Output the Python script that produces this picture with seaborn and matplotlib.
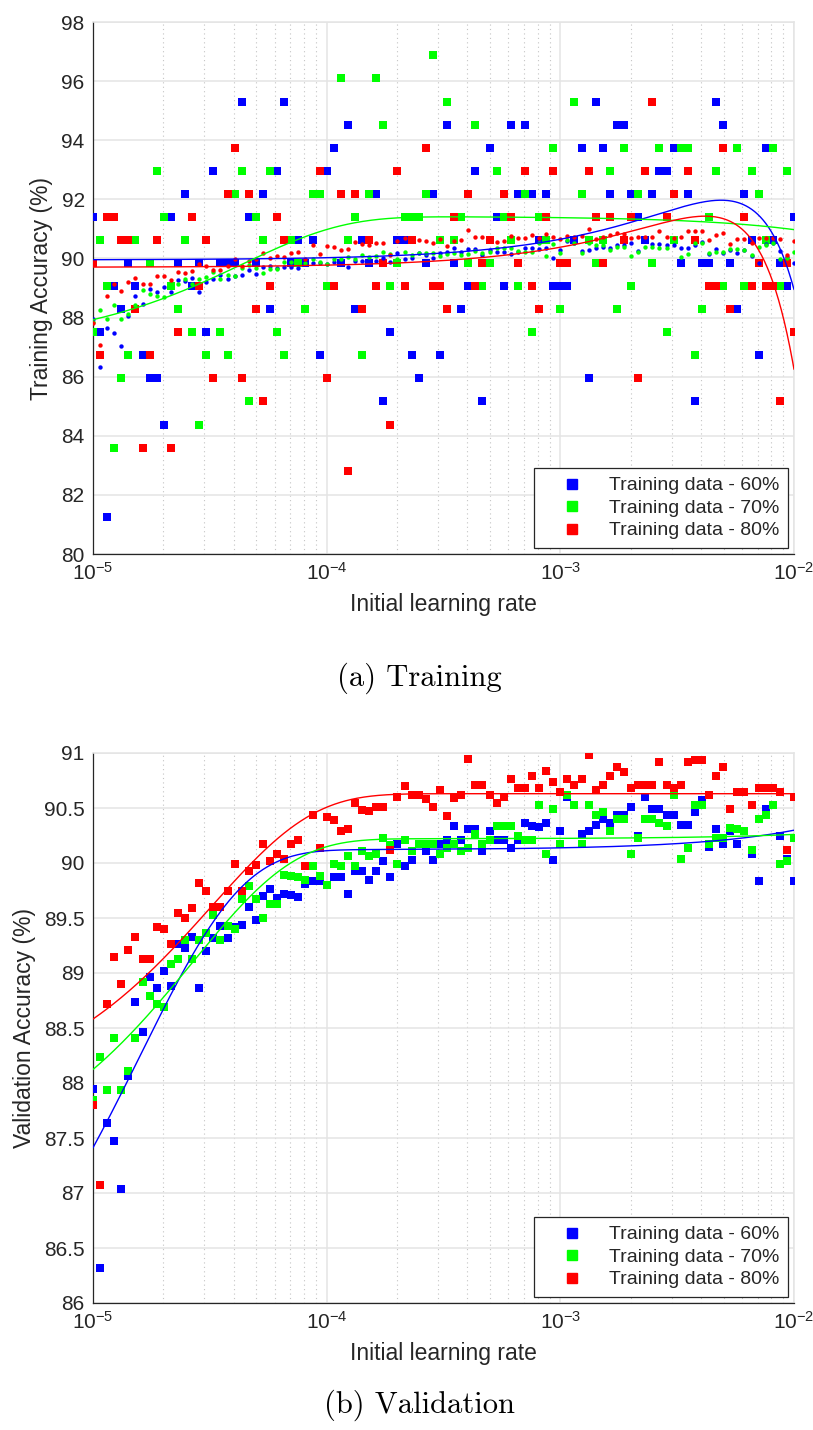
import numpy as np
import pandas as pd
import matplotlib
matplotlib.use("Agg")
import matplotlib.pyplot as plt
import seaborn as sns
from matplotlib.lines import Line2D
from matplotlib.ticker import FixedLocator, FuncFormatter, LogLocator, NullFormatter

sns.set_style("white")
plt.rcParams["font.family"] = ["Liberation Sans", "DejaVu Sans"]
plt.rcParams["mathtext.fontset"] = "custom"
plt.rcParams["mathtext.rm"] = "Liberation Sans"
plt.rcParams["mathtext.it"] = "Liberation Sans:italic"
plt.rcParams["mathtext.bf"] = "Liberation Sans:bold"
plt.rcParams["axes.unicode_minus"] = False

nan = np.nan

# 100 runs, initial learning rate evenly spaced on a log scale from 1e-5 to 1e-2
learning_rate = np.logspace(-5, -2, 100)

# final mini-batch training accuracy (%) per run
train_60 = [
    91.41, 87.50, 81.25, 89.06, 88.28, 89.84, 89.06, 86.72, 85.94, 85.94,
    84.38, 91.41, 89.84, 92.19, 89.06, 89.84, 87.50, 92.97, 89.84, 89.84,
    89.84, 95.31, 91.41, 89.84, 92.19, 88.28, 92.97, 95.31, 89.84, 90.63,
    89.84, 90.63, 86.72, 92.97, 93.75, 89.84, 94.53, 88.28, 90.63, 89.84,
    92.19, 85.16, 87.50, 90.63, 90.63, 86.72, 85.94, 89.84, 92.19, 86.72,
    94.53, 89.84, 88.28, 89.06, 92.97, 85.16, 93.75, 91.41, 89.06, 94.53,
    92.19, 94.53, 92.19, 90.63, 92.19, 89.06, 89.06, 89.06, 90.63, 93.75,
    85.94, 95.31, 93.75, 92.19, 94.53, 94.53, 92.19, 91.41, 90.63, 92.19,
    92.97, 92.97, 93.75, 89.84, 92.19, 85.16, 89.84, 89.84, 95.31, 94.53,
    89.84, 88.28, 92.19, 90.63, 86.72, 93.75, 90.63, 89.84, 89.06, 91.41,
]
train_70 = [
    87.50, 90.63, 89.06, 83.59, 85.94, 86.72, 90.63, nan, 89.84, 92.97,
    91.41, 89.06, 88.28, 90.63, 87.50, 84.38, 86.72, nan, 87.50, 86.72,
    92.19, 92.97, 85.16, 91.41, 90.63, 92.97, 87.50, 86.72, 90.63, 89.84,
    88.28, 92.19, 92.19, 89.06, nan, 96.09, 90.63, 91.41, 86.72, 92.19,
    96.09, 94.53, 89.06, 89.84, 91.41, 91.41, 91.41, 92.19, 96.88, 90.63,
    95.31, 90.63, 91.41, 89.84, 94.53, 89.06, 89.84, 92.97, 91.41, 90.63,
    89.06, 92.19, 87.50, 91.41, 90.63, 93.75, 88.28, nan, 95.31, 92.19,
    90.63, 89.84, 90.63, 92.97, 88.28, 93.75, 89.06, 92.19, nan, 89.84,
    93.75, 87.50, 90.63, 93.75, 93.75, 86.72, 88.28, 91.41, 92.97, 89.06,
    nan, 93.75, 89.06, 92.97, 92.19, 90.63, 93.75, 89.06, 92.97, nan,
]
train_80 = [
    89.84, 86.72, 91.41, 91.41, 90.63, 90.63, 88.28, 83.59, 86.72, 90.63,
    nan, 83.59, 87.50, nan, 91.41, 89.06, 90.63, 85.94, nan, 92.19,
    93.75, 85.94, 92.19, 88.28, 85.16, 89.06, 91.41, 90.63, nan, nan,
    nan, nan, 92.97, 85.94, 89.06, 92.19, 82.81, 92.19, 88.28, 90.63,
    89.06, 89.84, 84.38, 92.97, 89.06, 90.63, nan, 93.75, 89.06, 89.06,
    88.28, 91.41, nan, 92.19, 89.06, 89.84, 90.63, nan, 92.19, 91.41,
    89.84, 92.97, 89.06, 88.28, 91.41, 92.97, 89.84, 89.84, nan, nan,
    92.97, 91.41, 89.84, 91.41, nan, 90.63, 91.41, 85.94, 92.97, 95.31,
    nan, 91.41, 92.19, nan, 92.97, 90.63, nan, 89.06, 89.06, 93.75,
    88.28, nan, 91.41, 89.06, 89.84, 89.06, 89.06, 85.16, 89.84, 87.50,
]

# validation accuracy (%) per run
val_60 = [
    87.95, 86.32, 87.64, 87.47, 87.04, 88.06, 88.74, 88.46, 88.96, 88.86,
    89.02, 88.88, 89.26, 89.23, 89.33, 88.86, 89.20, 89.32, 89.43, 89.32,
    89.42, 89.44, 89.60, 89.48, 89.70, 89.76, 89.68, 89.72, 89.71, 89.69,
    89.81, 89.84, 89.84, 89.80, 89.87, 89.87, 89.72, 89.93, 89.93, 89.85,
    89.93, 90.02, 89.87, 90.17, 89.97, 90.03, 90.17, 90.11, 90.03, 90.17,
    90.21, 90.34, 90.21, 90.31, 90.31, 90.11, 90.29, 90.21, 90.21, 90.14,
    90.21, 90.36, 90.34, 90.33, 90.36, 90.03, 90.29, 90.60, 90.53, 90.26,
    90.29, 90.35, 90.40, 90.36, 90.44, 90.44, 90.51, 90.25, 90.60, 90.49,
    90.49, 90.44, 90.44, 90.35, 90.35, 90.46, 90.57, 90.15, 90.31, 90.17,
    90.29, 90.17, 90.29, 90.08, 89.84, 90.49, 90.53, 90.25, 90.04, 89.84,
]
val_70 = [
    87.85, 88.24, 87.94, 88.41, 87.94, 88.11, 88.41, 88.92, 88.79, 88.72,
    88.69, 89.08, 89.13, 89.30, 89.13, 89.30, 89.36, 89.53, 89.30, 89.43,
    89.40, 89.67, 89.79, 89.67, 89.50, 89.63, 89.63, 89.89, 89.88, 89.87,
    89.85, 89.97, 89.88, 89.80, 89.99, 89.97, 90.06, 89.97, 90.11, 90.06,
    90.08, 90.23, 90.16, 89.99, 90.21, 90.11, 90.17, 90.17, 90.17, 90.08,
    90.14, 90.17, 90.11, 90.14, 90.26, 90.17, 90.21, 90.34, 90.34, 90.34,
    90.25, 90.21, 90.21, 90.53, 90.08, 90.49, 90.17, 90.62, 90.53, 90.17,
    90.53, 90.44, 90.46, 90.29, 90.40, 90.40, 90.08, 90.23, 90.40, 90.40,
    90.36, 90.34, 90.62, 90.04, 90.14, 90.53, 90.53, 90.17, 90.23, 90.23,
    90.32, 90.31, 90.29, 90.12, 90.40, 90.44, 90.53, 89.99, 90.02, 90.23,
]
val_80 = [
    87.80, 87.07, 88.72, 89.15, 88.90, 89.21, 89.33, 89.13, 89.13, 89.42,
    89.40, 89.26, 89.55, 89.50, 89.59, 89.82, 89.75, 89.60, 89.60, 89.75,
    89.99, 89.75, 89.93, 89.98, 90.17, 90.02, 90.08, 90.04, 90.17, 90.21,
    89.97, 90.44, 90.14, 90.42, 90.39, 90.29, 90.31, 90.55, 90.48, 90.47,
    90.51, 90.51, 90.12, 90.60, 90.70, 90.62, 90.62, 90.58, 90.51, 90.66,
    90.43, 90.59, 90.62, 90.95, 90.71, 90.71, 90.62, 90.55, 90.60, 90.76,
    90.68, 90.68, 90.79, 90.68, 90.84, 90.74, 90.65, 90.76, 90.71, 90.76,
    90.98, 90.66, 90.71, 90.79, 90.87, 90.83, 90.68, 90.71, 90.71, 90.71,
    90.92, 90.71, 90.68, 90.71, 90.92, 90.94, 90.94, 90.62, 90.79, 90.87,
    90.49, 90.65, 90.65, 90.53, 90.68, 90.68, 90.68, 90.65, 90.12, 90.60,
]

# fitted trend lines
# cubic in lr (lr expressed in units of 1e-3): c0 + c1*u + c2*u^2 + c3*u^3
train_fit_60 = [89.95, 0.7592, -0.05625, -0.002967]
train_fit_80 = [89.70, 0.7419, -0.05673, -0.005196]
# saturating: plateau - amplitude*exp(-lr/scale) + slope*lr
train_fit_70 = [91.425, 4.40, 4.35e-5, -45.0]
val_fit_60 = [90.12, 5.06, 1.6e-5, 17.8]
val_fit_70 = [90.22, 3.05, 2.67e-5, 4.0]
val_fit_80 = [90.63, 2.80, 3.2e-5, 0.0]

series_labels = ["Training data - 60%", "Training data - 70%", "Training data - 80%"]
colors = ["#0000ff", "#00ff00", "#ff0000"]


def cubic_fit(p, lr):
    u = lr * 1e3
    return p[0] + p[1] * u + p[2] * u ** 2 + p[3] * u ** 3


def saturating_fit(p, lr):
    return p[0] - p[1] * np.exp(-lr / p[2]) + p[3] * lr


W, H = 813, 1430
fig = plt.figure(figsize=(W / 100, H / 100), dpi=100)


def axes_px(left, top, right, bottom):
    return fig.add_axes([left / W, 1 - bottom / H, (right - left) / W, (bottom - top) / H])


ax_tr = axes_px(93, 22, 794, 554)
ax_va = axes_px(93, 753, 794, 1303)

INK = "#262626"
SQ = 30     # square marker area (pt^2)
DOT = 10    # dot marker area (pt^2)


def scatter(ax, y, color, marker, size, z):
    df = pd.DataFrame({"lr": learning_rate, "acc": y}).dropna()
    sns.scatterplot(data=df, x="lr", y="acc", ax=ax, color=color, marker=marker,
                    s=size, linewidth=0, legend=False, zorder=z)


lr_dense = np.logspace(-5, -2, 500)


def trend(ax, yfit, color):
    sns.lineplot(x=lr_dense, y=yfit, ax=ax, color=color, linewidth=1.0,
                 estimator=None, sort=False, legend=False, zorder=5)


# ---- (a) training ----
for y, c in zip([train_60, train_70, train_80], colors):
    scatter(ax_tr, y, c, "s", SQ, 3)
for y, c in zip([val_60, val_70, val_80], colors):
    scatter(ax_tr, y, c, "o", DOT, 4)
trend(ax_tr, cubic_fit(train_fit_60, lr_dense), colors[0])
trend(ax_tr, saturating_fit(train_fit_70, lr_dense), colors[1])
trend(ax_tr, cubic_fit(train_fit_80, lr_dense), colors[2])

# ---- (b) validation ----
for y, c in zip([val_60, val_70, val_80], colors):
    scatter(ax_va, y, c, "s", SQ, 3)
trend(ax_va, saturating_fit(val_fit_60, lr_dense), colors[0])
trend(ax_va, saturating_fit(val_fit_70, lr_dense), colors[1])
trend(ax_va, saturating_fit(val_fit_80, lr_dense), colors[2])


def style(ax, ylim, yticks, ylabel):
    ax.set_xscale("log")
    ax.set_xlim(1e-5, 1e-2)
    ax.set_ylim(*ylim)
    ax.xaxis.set_major_locator(LogLocator(base=10, numticks=10))
    ax.xaxis.set_minor_locator(LogLocator(base=10, subs=np.arange(2, 10), numticks=100))
    ax.xaxis.set_minor_formatter(NullFormatter())
    ax.yaxis.set_major_locator(FixedLocator(yticks))
    ax.yaxis.set_major_formatter(FuncFormatter(lambda v, _: f"{v:g}"))
    ax.set_axisbelow(True)
    ax.grid(which="major", color="#e4e4e4", linewidth=1.1, linestyle="-")
    ax.grid(which="minor", axis="x", color="#c4c4c4", linewidth=0.8, linestyle=(0, (1, 3)))
    ax.tick_params(which="both", direction="in", top=False, right=False, colors=INK,
                   labelsize=15, pad=6)
    ax.tick_params(which="major", length=5, width=0.8)
    ax.tick_params(which="minor", length=3, width=0.6)
    for side in ("left", "bottom"):
        ax.spines[side].set_color(INK)
        ax.spines[side].set_linewidth(0.9)
    for side in ("top", "right"):
        ax.spines[side].set_color("#e4e4e4")
        ax.spines[side].set_linewidth(1.1)
    ax.set_xlabel("Initial learning rate", fontsize=16.5, color=INK, labelpad=6)
    ax.set_ylabel(ylabel, fontsize=16.5, color=INK, labelpad=6)
    handles = [Line2D([], [], marker="s", linestyle="", color=c, markersize=7.5)
               for c in colors]
    leg = ax.legend(handles, series_labels, loc="lower right", fontsize=14,
                    frameon=True, fancybox=False, framealpha=1, edgecolor=INK,
                    handlelength=3.0, handletextpad=0.4, borderpad=0.45,
                    labelspacing=0.25, borderaxespad=0.3)
    leg.get_frame().set_linewidth(0.9)
    leg.set_zorder(10)


style(ax_tr, (80, 98), np.arange(80, 98.1, 2), "Training Accuracy (%)")
style(ax_va, (86, 91), np.arange(86, 91.01, 0.5), "Validation Accuracy (%)")

fig.text(419 / W, 1 - 678 / H, "(a) Training", fontfamily="cmr10", fontsize=22,
         ha="center", va="center", color="black")
fig.text(419 / W, 1 - 1405 / H, "(b) Validation", fontfamily="cmr10", fontsize=22,
         ha="center", va="center", color="black")

fig.savefig("out.png", dpi=100)
